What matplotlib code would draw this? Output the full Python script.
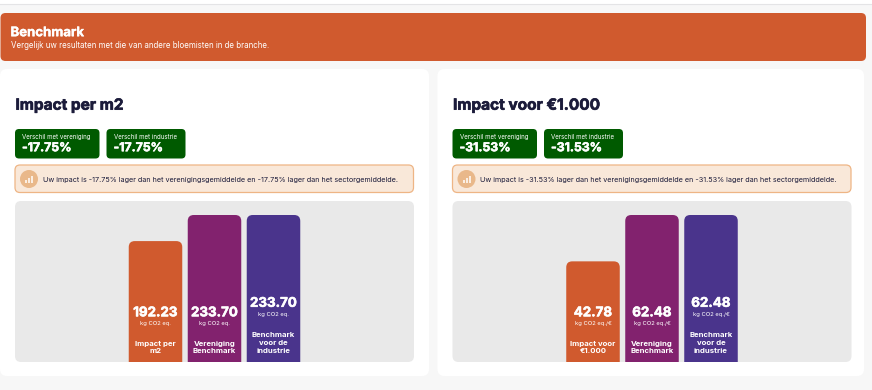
import matplotlib
matplotlib.use("Agg")
import matplotlib.pyplot as plt
import matplotlib.patheffects as pe
from matplotlib.patches import FancyBboxPatch, Rectangle, Circle
from matplotlib.transforms import blended_transform_factory

plt.rcParams['font.family'] = ['Inter', 'DejaVu Sans']

W, H = 872, 390

# chart data
titles = ["Impact per m2", "Impact voor €1.000"]
diff_labels = ["Verschil met vereniging", "Verschil met industrie"]
diff_values = [["-17.75%", "-17.75%"], ["-31.53%", "-31.53%"]]
notes = ["Uw impact is -17.75% lager dan het verenigingsgemiddelde en -17.75% lager dan het sectorgemiddelde.",
         "Uw impact is -31.53% lager dan het verenigingsgemiddelde en -31.53% lager dan het sectorgemiddelde."]
values_m2 = [192.23, 233.70, 233.70]
values_eur = [42.78, 62.48, 62.48]
units = ["kg CO2 eq.", "kg CO2 eq./€"]
labels_m2 = ["Impact per\nm2", "Vereniging\nBenchmark", "Benchmark\nvoor de\nindustrie"]
labels_eur = ["Impact voor\n€1.000", "Vereniging\nBenchmark", "Benchmark\nvoor de\nindustrie"]

orange = "#d05a2e"
purple = "#82226e"
indigo = "#4a348c"
green = "#005a00"
navy = "#1b1b3a"

fig = plt.figure(figsize=(W / 100, H / 100), dpi=100, facecolor="#f7f7f7")

# background axes in pixels, y pointing down
bg = fig.add_axes([0, 0, 1, 1])
bg.set_xlim(0, W)
bg.set_ylim(H, 0)
bg.axis("off")


def box(x0, y0, x1, y1, color, r=5, edge="none", lw=0):
    bg.add_patch(FancyBboxPatch((x0 + r, y0 + r), x1 - x0 - 2 * r, y1 - y0 - 2 * r,
                                boxstyle=f"round,pad={r},rounding_size={r}",
                                fc=color, ec=edge, lw=lw))


def heavy(width, color):
    return [pe.withStroke(linewidth=width, foreground=color)]


# top strip and banner
box(-10, -10, 882, 4.5, "#ffffff", r=3, edge="#e4e4e6", lw=0.8)
box(0.5, 13, 866, 61, orange, r=5)
bg.text(10.5, 33.2, "Benchmark", color="white", fontsize=9.5, fontweight="bold", va="center",
        path_effects=heavy(0.25, "white"))
bg.text(10.5, 45.8, "Vergelijk uw resultaten met die van andere bloemisten in de branche.",
        color="white", fontsize=5.7, va="center")


def draw_card(x0, x1, title, diffs, note, values, labels, unit):
    box(x0, 69, x1, 376, "#ffffff", r=7)
    px = x0 + 15
    bg.text(px + 0.5, 105.2, title, color=navy, fontsize=11.1, fontweight="bold", va="center",
            path_effects=heavy(0.45, navy))

    # green difference badges
    badge_x = [(px, px + 84.5), (px + 91.5, px + 170.5)]
    for (b0, b1), lab, val in zip(badge_x, diff_labels, diffs):
        box(b0, 129, b1, 158.5, green, r=4)
        bg.text(b0 + 7, 136.7, lab, color="white", fontsize=4.45, va="center")
        bg.text(b0 + 7, 148.2, val, color="white", fontsize=8.8, fontweight="bold", va="center",
                path_effects=heavy(0.4, "white"))

    # note strip
    box(px, 165, px + 398.5, 192.5, "#f9e8d9", r=5, edge="#eeb585", lw=0.9)
    bg.add_patch(Circle((px + 14, 179), 9, fc="#e9b88a", ec="none"))
    for dx, h in zip([-3, 0, 3], [3, 5, 7]):
        bg.add_patch(Rectangle((px + 14 + dx - 1, 182.5 - h), 2, h, fc="#fbeee2", ec="none"))
    bg.text(px + 27.5, 180.3, note, color=navy, fontsize=5.2, va="center")

    # gray plot area with the bars
    ax_x0, ax_x1 = px, px + 399
    ax_y0, ax_y1 = 201, 362
    bg.add_patch(FancyBboxPatch((ax_x0 + 6, ax_y0 + 6), ax_x1 - ax_x0 - 12, ax_y1 - ax_y0 - 12,
                                boxstyle="round,pad=6,rounding_size=6", fc="#e9e9e9", ec="none"))
    ax = fig.add_axes([ax_x0 / W, 1 - ax_y1 / H, (ax_x1 - ax_x0) / W, (ax_y1 - ax_y0) / H])
    ax.patch.set_alpha(0)
    ax.axis("off")
    step = 59.0
    half = (ax_x1 - ax_x0) / 2 / step
    ymax = max(values) * (ax_y1 - ax_y0) / 147.0
    ax.set_xlim(1 - half, 1 + half)
    ax.set_ylim(0, ymax)
    x_per_px = 1 / step
    y_per_px = ymax / (ax_y1 - ax_y0)
    width = 0.907
    rx = 6 * x_per_px
    ry = 6 * y_per_px
    trans = blended_transform_factory(ax.transData, bg.transData)
    for i, (v, col, lab) in enumerate(zip(values, [orange, purple, indigo], labels)):
        # bar runs on below the axes so only the top corners show rounded
        ax.add_patch(FancyBboxPatch((i - width / 2, -ry * 3), width, v + ry * 3,
                                    boxstyle=f"round,pad=0,rounding_size={rx}",
                                    mutation_aspect=ry / rx, fc=col, ec="none", clip_on=True))
        three = lab.count("\n") == 2
        top = 303.8 if three else 313.3
        ax.text(i, top, f"{v:.2f}", transform=trans, color="white", fontsize=9.6,
                fontweight="bold", ha="center", va="center", path_effects=heavy(0.4, "white"))
        ax.text(i, top + 10.5, unit, transform=trans, color="white", fontsize=4.2,
                ha="center", va="center")
        ax.text(i, 347.5 if not three else 343, lab, transform=trans, color="white",
                fontsize=5.6, fontweight="bold", ha="center",
                va="center", linespacing=1.35)


draw_card(0, 429, titles[0], diff_values[0], notes[0], values_m2, labels_m2, units[0])
draw_card(437.5, 864, titles[1], diff_values[1], notes[1], values_eur, labels_eur, units[1])

fig.savefig("out.png", dpi=100, facecolor=fig.get_facecolor())
